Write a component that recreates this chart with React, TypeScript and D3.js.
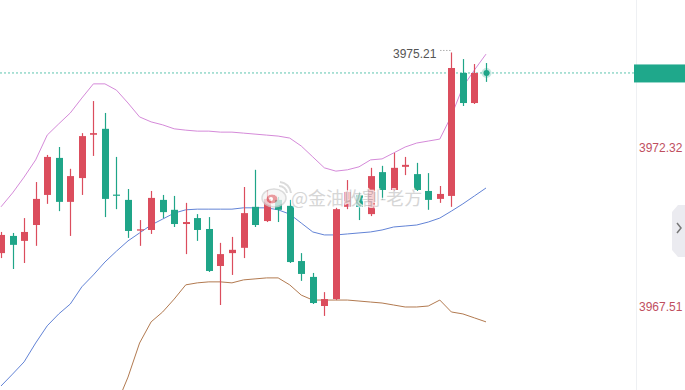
import React from 'react';
import * as d3 from 'd3';

// ---- data (price units) ----
const opens = [3969.14, 3969.66, 3969.51, 3969.99, 3970.90, 3972.02, 3970.69, 3971.41, 3972.72, 3972.90, 3970.91, 3970.75, 3969.82, 3969.84, 3970.75, 3970.45, 3970.02, 3970.20, 3969.87, 3968.75, 3969.14, 3969.30, 3970.54, 3970.11, 3970.75, 3970.57, 3968.90, 3968.42, 3967.54, 3967.75, 3970.54, 3970.90, 3970.32, 3971.59, 3971.05, 3971.75, 3971.53, 3971.02, 3970.78, 3970.87, 3974.59, 3973.68, 3974.59];
const highs = [3969.78, 3969.75, 3970.20, 3971.29, 3972.11, 3972.35, 3971.69, 3972.77, 3973.74, 3973.38, 3972.05, 3971.08, 3970.14, 3971.02, 3970.90, 3970.87, 3970.66, 3970.32, 3970.23, 3969.45, 3969.63, 3971.14, 3971.66, 3971.05, 3970.84, 3970.75, 3969.14, 3968.54, 3967.96, 3970.51, 3971.35, 3970.99, 3971.72, 3971.78, 3972.17, 3972.05, 3971.87, 3971.56, 3971.17, 3975.21, 3975.01, 3974.86, 3974.89];
const lows = [3968.99, 3968.66, 3968.84, 3969.36, 3970.63, 3970.41, 3969.66, 3970.90, 3972.08, 3970.23, 3970.47, 3969.60, 3969.36, 3969.72, 3970.20, 3969.93, 3969.11, 3969.51, 3968.57, 3967.57, 3968.48, 3968.99, 3969.93, 3970.08, 3970.08, 3968.84, 3968.30, 3967.60, 3967.24, 3967.72, 3970.47, 3970.14, 3970.26, 3970.75, 3971.02, 3971.50, 3971.02, 3970.45, 3970.66, 3970.54, 3973.59, 3973.65, 3974.32];
const closes = [3969.69, 3969.39, 3969.78, 3970.78, 3972.05, 3970.69, 3971.47, 3972.68, 3972.77, 3970.78, 3970.88, 3969.81, 3969.86, 3970.81, 3970.38, 3970.02, 3970.08, 3969.84, 3968.60, 3969.11, 3969.24, 3970.35, 3969.99, 3970.78, 3970.45, 3968.87, 3968.51, 3967.63, 3967.75, 3970.47, 3970.99, 3970.54, 3971.47, 3971.05, 3971.72, 3971.81, 3971.05, 3970.75, 3970.93, 3974.74, 3973.68, 3974.59, 3974.59];

const upperBand = [3970.54, 3970.96, 3971.44, 3971.96, 3972.71, 3973.05, 3973.38, 3973.83, 3974.26, 3974.26, 3974.07, 3973.68, 3973.26, 3973.11, 3973.02, 3972.90, 3972.86, 3972.83, 3972.83, 3972.80, 3972.80, 3972.77, 3972.74, 3972.71, 3972.68, 3972.62, 3972.38, 3972.05, 3971.72, 3971.62, 3971.66, 3971.75, 3971.96, 3971.99, 3972.17, 3972.35, 3972.47, 3972.53, 3972.59, 3973.29, 3974.17, 3974.68, 3975.16];
const middleBand = [3965.12, 3965.48, 3965.85, 3966.42, 3966.94, 3967.30, 3967.60, 3968.12, 3968.48, 3968.87, 3969.20, 3969.51, 3969.75, 3969.99, 3970.17, 3970.35, 3970.45, 3970.47, 3970.47, 3970.47, 3970.47, 3970.51, 3970.51, 3970.51, 3970.45, 3970.32, 3970.05, 3969.78, 3969.69, 3969.69, 3969.72, 3969.75, 3969.78, 3969.84, 3969.93, 3969.96, 3969.99, 3970.08, 3970.20, 3970.41, 3970.63, 3970.87, 3971.11];
const lowerBand = [3959.71, 3960.01, 3960.25, 3960.89, 3961.16, 3961.55, 3961.82, 3962.40, 3962.70, 3963.49, 3964.55, 3965.39, 3966.42, 3967.06, 3967.36, 3967.75, 3968.18, 3968.24, 3968.27, 3968.27, 3968.24, 3968.33, 3968.36, 3968.39, 3968.39, 3968.18, 3967.87, 3967.72, 3967.72, 3967.72, 3967.72, 3967.69, 3967.66, 3967.63, 3967.57, 3967.51, 3967.51, 3967.54, 3967.72, 3967.36, 3967.30, 3967.18, 3967.06];

const axisTicks = [3967.51, 3972.32, 3977.13];
const lastPrice = 3974.59;
const watermarkText = '@金油收割-老方';

const RED = '#db4d5d';
const GREEN = '#1fa588';

export default function App() {
  const W = 685;
  const H = 390;
  const plotRight = 635;
  const n = opens.length;

  const x = d3.scaleLinear().domain([0, n - 1]).range([1, 486]);
  const y = d3.scaleLinear().domain([3964.999, 3976.797]).range([H, 0]);
  const bodyW = 7;

  const line = d3
    .line<number>()
    .x((_, i) => x(i))
    .y((d) => y(d));

  const hiIdx = d3.maxIndex(highs);
  const hiY = y(highs[hiIdx]);
  const hiX = x(hiIdx);

  return (
    <svg
      width={W}
      height={H}
      style={{ position: 'absolute', left: 0, top: 0, background: '#fff' }}
      fontFamily="Arial, 'Liberation Sans', sans-serif"
    >
      <defs>
        <clipPath id="plot">
          <rect x={0} y={0} width={plotRight} height={H} />
        </clipPath>
      </defs>
      <rect x={0} y={0} width={W} height={H} fill="#fff" />

      <g clipPath="url(#plot)">
        {/* current price dashed line */}
        <line
          x1={0}
          x2={plotRight}
          y1={y(lastPrice)}
          y2={y(lastPrice)}
          stroke="#5cc4ae"
          strokeWidth={1}
          strokeDasharray="2,2"
        />

        {/* Bollinger bands */}
        <path d={line(upperBand) || ''} fill="none" stroke="#d58ad9" strokeWidth={1} />
        <path d={line(middleBand) || ''} fill="none" stroke="#6283d6" strokeWidth={1} />
        <path d={line(lowerBand) || ''} fill="none" stroke="#b27a50" strokeWidth={1} />

        {/* candles */}
        {opens.map((o, i) => {
          const c = closes[i];
          const up = c >= o;
          const col = i === n - 1 ? GREEN : up ? RED : GREEN;
          const cx = Math.round(x(i)) + 0.5;
          const top = y(Math.max(o, c));
          const bh = Math.max(1.2, Math.abs(y(o) - y(c)));
          return (
            <g key={i}>
              <line x1={cx} x2={cx} y1={y(highs[i])} y2={y(lows[i])} stroke={col} strokeWidth={1.2} />
              {i < n - 1 && (
                <rect x={cx - bodyW / 2} y={top} width={bodyW} height={bh} fill={col} />
              )}
            </g>
          );
        })}

        {/* last price pulse dot */}
        <circle cx={Math.round(x(n - 1)) + 0.5} cy={y(closes[n - 1])} r={5} fill={GREEN} opacity={0.25} />
        <circle cx={Math.round(x(n - 1)) + 0.5} cy={y(closes[n - 1])} r={3} fill={GREEN} />

        {/* high label */}
        <text x={hiX - 15} y={hiY + 6} textAnchor="end" fontSize={12} fill="#555">
          {highs[hiIdx].toFixed(2)}
        </text>
        <line
          x1={hiX - 11}
          x2={hiX - 1}
          y1={hiY - 2}
          y2={hiY - 2}
          stroke="#888"
          strokeWidth={1}
          strokeDasharray="1,2"
        />

        {/* watermark */}
        <g opacity={0.75}>
          <ellipse cx={274} cy={198} rx={12} ry={9} fill="#f4f4f4" stroke="#d0d0d0" strokeWidth={1.5} />
          <ellipse cx={272} cy={199} rx={6} ry={5} fill="#e27a80" stroke="#fff" strokeWidth={1} />
          <circle cx={271} cy={199} r={2} fill="#fff" />
          <path d="M279,186 A8,8 0 0 1 287,193" fill="none" stroke="#d0d0d0" strokeWidth={2} />
          <path d="M280,182 A12,12 0 0 1 291,193" fill="none" stroke="#d0d0d0" strokeWidth={2} />
          <text
            x={291}
            y={205}
            fontSize={18}
            fontFamily="'Noto Sans CJK SC', sans-serif"
            fill="#c9c9c9"
            stroke="#ffffff"
            strokeWidth={2.5}
            paintOrder="stroke"
          >
            {watermarkText}
          </text>
        </g>
      </g>

      {/* right axis */}
      <line x1={plotRight + 1.5} x2={plotRight + 1.5} y1={0} y2={H} stroke="#eef0f3" strokeWidth={1} />
      {axisTicks.map((t) => (
        <text
          key={t}
          x={639}
          y={Math.max(y(t), -4)}
          dy="0.35em"
          fontSize={12}
          fill="#bf4f5f"
        >
          {t.toFixed(2)}
        </text>
      ))}

      {/* current price tag */}
      <rect x={634} y={y(lastPrice) - 8.5} width={51} height={18} fill="#1fa88b" />

      {/* side button */}
      <path d="M685,205 L678,205 L672,212 L672,250 L678,257 L685,257 Z" fill="#ebebf0" />
      <path d="M677,223 L681,228 L677,233" fill="none" stroke="#777" strokeWidth={1.5} />
    </svg>
  );
}
